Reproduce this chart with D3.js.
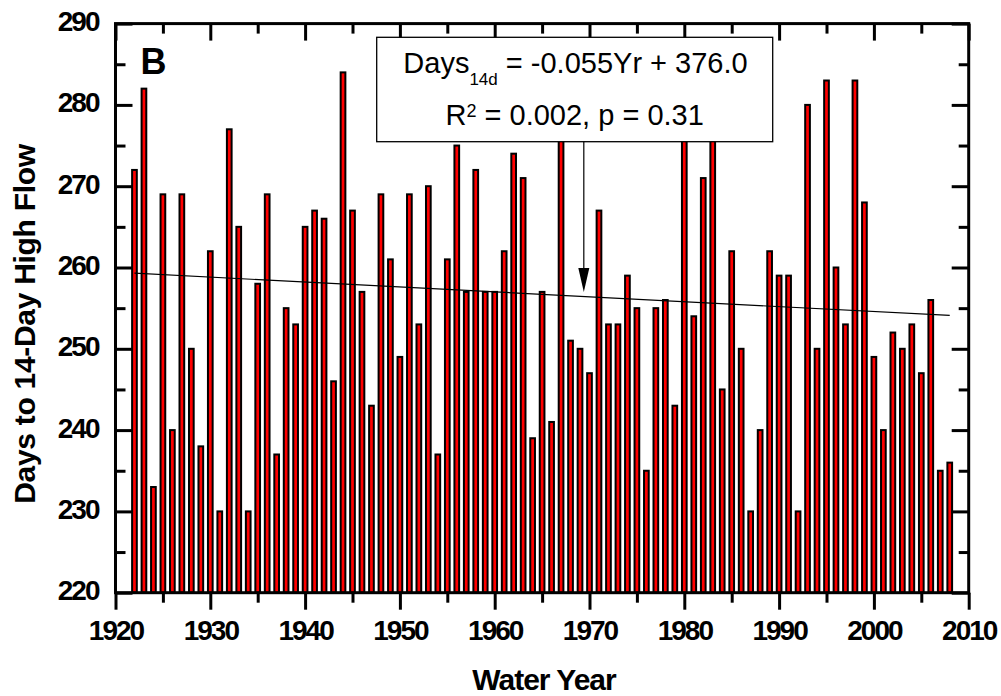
<!DOCTYPE html>
<html><head><meta charset="utf-8">
<script src="https://cdn.jsdelivr.net/npm/d3@7"></script>
<style>body{margin:0;background:#fff} svg{display:block} text{white-space:pre}</style>
</head><body>
<svg id="chart" width="1001" height="696"></svg>
<script>
// ---- data ----
const years = [1922,1923,1924,1925,1926,1927,1928,1929,1930,1931,1932,1933,1934,1935,1936,1937,1938,1939,1940,1941,
  1942,1943,1944,1945,1946,1947,1948,1949,1950,1951,1952,1953,1954,1955,1956,1957,1958,1959,1960,1961,
  1962,1963,1964,1965,1966,1967,1968,1969,1970,1971,1972,1973,1974,1975,1976,1977,1978,1979,1980,1981,
  1982,1983,1984,1985,1986,1987,1988,1989,1990,1991,1992,1993,1994,1995,1996,1997,1998,1999,2000,2001,
  2002,2003,2004,2005,2006,2007,2008];
const days = [272,282,233,269,240,269,250,238,262,230,277,265,230,258,269,237,255,253,265,267,
  266,246,284,267,257,243,269,261,249,269,253,270,237,261,275,257,272,257,257,262,
  274,271,239,257,241,278,251,250,247,267,253,253,259,255,235,255,256,243,280,254,
  271,279,245,262,250,230,240,262,259,259,230,280,250,283,260,253,283,268,249,240,
  252,250,253,247,256,235,236];
const xTicks = [1920,1930,1940,1950,1960,1970,1980,1990,2000,2010];
const xMinor = [1925,1935,1945,1955,1965,1975,1985,1995,2005];
const yTicks = [220,230,240,250,260,270,280,290];
const yMinor = [225,235,245,255,265,275,285];
const trendYears = [1922, 2008];
const trendDays = [259.3, 254.1];
const arrowYear = 1969.4;
const arrowTipDays = 257.0;
const panelLabel = "B";
const xTitle = "Water Year";
const yTitle = "Days to 14-Day High Flow";
const eqMain = "Days", eqSub = "14d", eqRest = " = -0.055Yr + 376.0";
const r2Main = "R", r2Sup = "2", r2Rest = " = 0.002, p = 0.31";

// ---- layout ----
const FONT = "'Liberation Sans', Arial, Helvetica, sans-serif";
const L = 115.5, R = 968.7, T = 23.6, B = 592.7;
const svg = d3.select("#chart");
const x = d3.scaleLinear().domain([1920, 2010]).range([L, R]);
const y = d3.scaleLinear().domain([220, 290]).range([B, T]);

// bars
const barW = 4.7;
svg.append("g").selectAll("rect").data(years).join("rect")
  .attr("x", (d) => x(d) - barW / 2)
  .attr("width", barW)
  .attr("y", (d, i) => y(days[i]))
  .attr("height", (d, i) => y(220) - y(days[i]))
  .attr("fill", "#ff0000")
  .attr("stroke", "#000")
  .attr("stroke-width", 2);

function styleTicks(g) {
  g.select(".domain").remove();
  g.selectAll("line").attr("stroke", "#000").attr("stroke-width", 3);
}
// bottom
const gb = svg.append("g").attr("transform", `translate(0,${B})`)
  .call(d3.axisBottom(x).tickValues(xTicks).tickSize(17).tickFormat(d3.format("d")));
styleTicks(gb);
gb.selectAll("text").attr("y", 47.3).attr("dy", 0)
  .attr("font-family", FONT).attr("font-weight", "bold").attr("font-size", 28)
  .attr("letter-spacing", -2).attr("fill", "#000");
styleTicks(svg.append("g").attr("transform", `translate(0,${B})`)
  .call(d3.axisBottom(x).tickValues(xMinor).tickSize(10).tickFormat("")));
// top
styleTicks(svg.append("g").attr("transform", `translate(0,${T})`)
  .call(d3.axisTop(x).tickValues(xTicks).tickSize(-17).tickFormat("")));
styleTicks(svg.append("g").attr("transform", `translate(0,${T})`)
  .call(d3.axisTop(x).tickValues(xMinor).tickSize(-10).tickFormat("")));
// left
const gl = svg.append("g").attr("transform", `translate(${L},0)`)
  .call(d3.axisLeft(y).tickValues(yTicks).tickSize(-17).tickFormat(d3.format("d")));
styleTicks(gl);
gl.selectAll("text").attr("x", -17).attr("dy", 7)
  .attr("font-family", FONT).attr("font-weight", "bold").attr("font-size", 28)
  .attr("letter-spacing", -2).attr("fill", "#000").attr("text-anchor", "end");
styleTicks(svg.append("g").attr("transform", `translate(${L},0)`)
  .call(d3.axisLeft(y).tickValues(yMinor).tickSize(-10).tickFormat("")));
// right
styleTicks(svg.append("g").attr("transform", `translate(${R},0)`)
  .call(d3.axisRight(y).tickValues(yTicks).tickSize(-17).tickFormat("")));
styleTicks(svg.append("g").attr("transform", `translate(${R},0)`)
  .call(d3.axisRight(y).tickValues(yMinor).tickSize(-10).tickFormat("")));

// frame
svg.append("rect").attr("x", L).attr("y", T).attr("width", R - L).attr("height", B - T)
  .attr("fill", "none").attr("stroke", "#000").attr("stroke-width", 3);

// trend line
svg.append("path")
  .attr("d", d3.line().x((d) => x(d)).y((d, i) => y(trendDays[i]))(trendYears))
  .attr("fill", "none").attr("stroke", "#000").attr("stroke-width", 1.2);

// equation box
const box = {x: 376.7, y: 37.3, w: 396, h: 104.4};
svg.append("rect").attr("x", box.x).attr("y", box.y).attr("width", box.w).attr("height", box.h)
  .attr("fill", "#fff").attr("stroke", "#000").attr("stroke-width", 1.3);
const t1 = svg.append("text").attr("x", 575.5).attr("y", 73.3).attr("text-anchor", "middle")
  .attr("font-family", FONT).attr("font-size", 29).attr("fill", "#000");
t1.append("tspan").text(eqMain);
t1.append("tspan").attr("font-size", 17).attr("dy", 11.7).text(eqSub);
t1.append("tspan").attr("dy", -11.7).text(eqRest);
const t2 = svg.append("text").attr("x", 574.7).attr("y", 125).attr("text-anchor", "middle")
  .attr("font-family", FONT).attr("font-size", 29).attr("fill", "#000");
t2.append("tspan").text(r2Main);
t2.append("tspan").attr("font-size", 18).attr("dy", -8).text(r2Sup);
t2.append("tspan").attr("dy", 8).text(r2Rest);

// arrow
const ax = x(arrowYear), tipY = y(arrowTipDays);
svg.append("line").attr("x1", ax).attr("x2", ax).attr("y1", box.y + box.h).attr("y2", tipY - 20)
  .attr("stroke", "#000").attr("stroke-width", 1.2);
svg.append("path").attr("d", `M${ax - 5.5},${tipY - 24} L${ax + 5.5},${tipY - 24} L${ax},${tipY} Z`)
  .attr("fill", "#000");

// panel label
svg.append("text").attr("x", 140.5).attr("y", 74).attr("font-family", FONT)
  .attr("font-weight", "bold").attr("font-size", 36).attr("fill", "#000").text(panelLabel);

// axis titles
svg.append("text").attr("x", 544).attr("y", 690).attr("text-anchor", "middle")
  .attr("font-family", FONT).attr("font-weight", "bold").attr("font-size", 30)
  .attr("letter-spacing", -1).attr("fill", "#000").text(xTitle);
svg.append("text").attr("transform", "translate(35,324) rotate(-90)").attr("text-anchor", "middle")
  .attr("font-family", FONT).attr("font-weight", "bold").attr("font-size", 30)
  .attr("letter-spacing", -0.3).attr("fill", "#000").text(yTitle);
</script>
</body></html>
